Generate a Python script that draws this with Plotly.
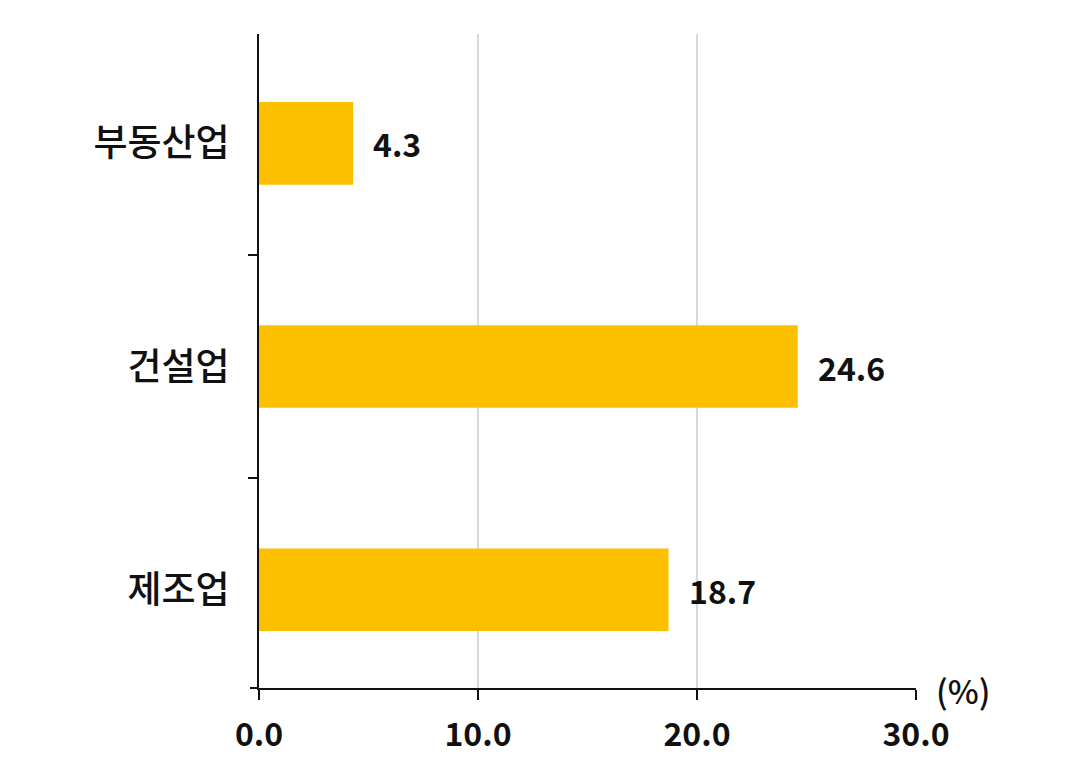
import plotly.graph_objects as go

# dados (de baixo para cima)
categorias = ['제조업', '건설업', '부동산업']
valores = [18.7, 24.6, 4.3]
ticks_x = [0, 10, 20, 30]
rotulos_x = ['0.0', '10.0', '20.0', '30.0']

fonte = 'Noto Sans CJK KR'
amarelo = '#FCC000'

fig = go.Figure()

fig.add_trace(go.Bar(x=valores,
                     y=categorias,
                     orientation='h',
                     marker=dict(color=amarelo, line=dict(width=0)),
                     width=0.37,
                     hoverinfo='skip'))

# rótulos de valor ao lado das barras
for cat, val in zip(categorias, valores):
    fig.add_annotation(x=val, y=cat, text='<b>%.1f</b>' % val,
                       xanchor='left', yanchor='middle', xshift=18,
                       showarrow=False,
                       font=dict(family=fonte, size=32, color='#111111'))

fig.add_annotation(xref='paper', yref='paper', x=1, y=0,
                   text='(%)', xanchor='left', yanchor='middle',
                   xshift=18, yshift=-2, showarrow=False,
                   font=dict(family=fonte, size=33, color='#111111', weight=500))

# tracinho no canto inferior esquerdo (limite da última categoria)
fig.add_shape(type='line', xref='paper', yref='paper', xsizemode='pixel', xanchor=0,
              x0=-9, x1=0, y0=0, y1=0, line=dict(color='#111111', width=2))

# a página tem 8px de margem no body, por isso as margens compensam
fig.update_layout(width=1091, height=783,
                  margin=dict(l=251, r=183, t=26, b=103),
                  paper_bgcolor='white', plot_bgcolor='white',
                  showlegend=False,
                  font=dict(family=fonte, color='#111111'))

fig.update_xaxes(range=[0, 30], tickvals=ticks_x, ticktext=['<b>%s</b>' % t for t in rotulos_x],
                 showgrid=True, gridcolor='#D9D9D9', gridwidth=1.5,
                 zeroline=False, showline=True, linecolor='#111111', linewidth=2,
                 ticks='outside', ticklen=10, tickwidth=2, tickcolor='#111111',
                 ticklabelstandoff=8,
                 tickfont=dict(family=fonte, size=32, color='#111111'))

fig.update_yaxes(type='category', range=[-0.44, 2.49],
                 showgrid=False, zeroline=False,
                 showline=True, linecolor='#111111', linewidth=2,
                 ticks='outside', tickson='boundaries', ticklen=9, tickwidth=2, tickcolor='#111111',
                 ticklabelstandoff=20,
                 tickfont=dict(family=fonte, size=37, color='#111111', weight=500))

fig.write_html('out.html')
